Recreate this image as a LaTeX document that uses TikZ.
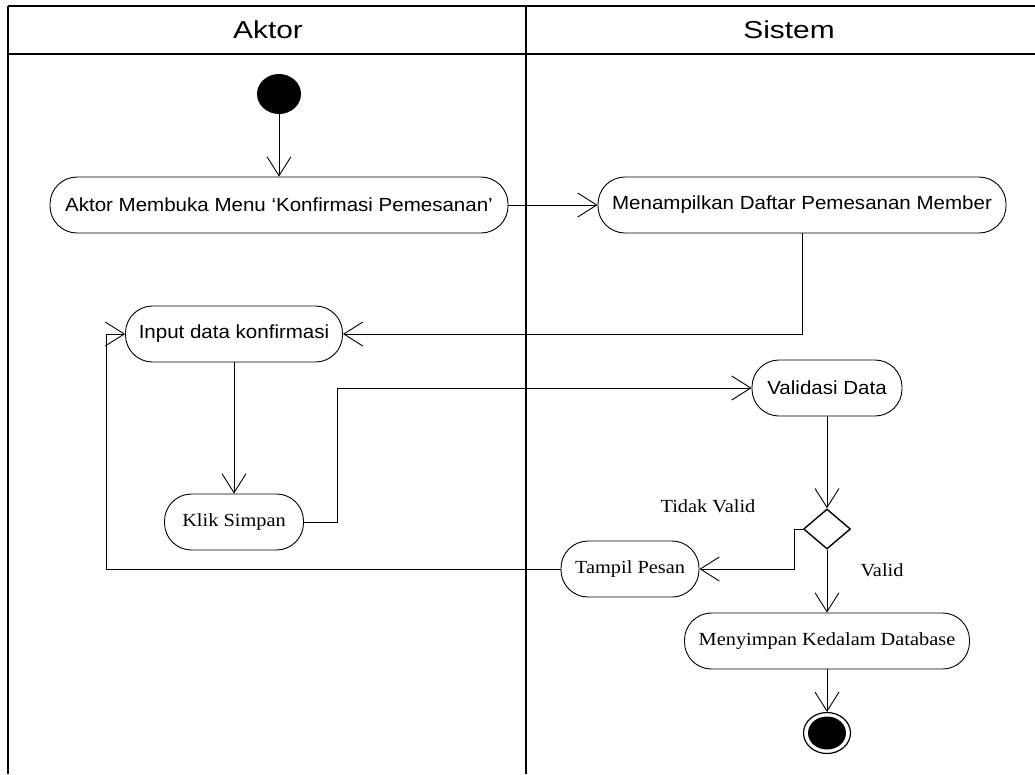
\documentclass[tikz,border=0pt]{standalone}
\usepackage{fontspec}
\setmainfont{Liberation Serif}[FakeStretch=1.1]
\newfontfamily\actsans{Liberation Sans}[FakeStretch=1.08]
\newfontfamily\headsans{Liberation Sans}[FakeStretch=1.22]
\usetikzlibrary{arrows.meta,shapes.geometric}

\begin{document}
\begin{tikzpicture}[x=1pt,y=-1pt,
  lane/.style={line width=1.8pt},
  act/.style={draw, line width=0.9pt, rounded corners=27pt, minimum height=56pt,
               inner sep=0pt, align=center},
  sanstext/.style={font=\actsans\fontsize{19}{22}\selectfont},
  seriftext/.style={font=\fontsize{18.5}{22}\selectfont},
  headtext/.style={font=\headsans\fontsize{24.5}{30}\selectfont},
  guard/.style={font=\fontsize{18.5}{22}\selectfont},
  flow/.style={line width=0.9pt, -{Straight Barb[length=19pt,width=24pt,line width=0.9pt]}}]

\useasboundingbox (0,0) rectangle (1035,774);

% swimlane frame
\draw[lane] (8,6) -- (1035,6);
\draw[lane] (8,54) -- (1035,54);
\draw[lane] (8,6) -- (8,774);
\draw[line width=2.2pt] (526,6) -- (526,774);

\node[headtext] (hA) at (268,30) {Aktor};
\node[headtext] (hS) at (789,30) {Sistem};

% initial and final states
\node[ellipse, fill=black, minimum width=44pt, minimum height=40pt, inner sep=0pt] (start) at (279,94) {};
\node[ellipse, draw, line width=1.2pt, minimum width=47pt, minimum height=41pt, inner sep=0pt] (finish) at (827,733) {};
\fill (finish.center) ellipse [x radius=19pt, y radius=16.5pt];

% activities
\node[act, sanstext, minimum width=458pt] (n1) at (279,205) {Aktor Membuka Menu ‘Konfirmasi Pemesanan’};
\node[act, sanstext, minimum width=408pt] (n2) at (802,205) {Menampilkan Daftar Pemesanan Member};
\node[act, sanstext, minimum width=217pt] (inp) at (234,334) {Input data konfirmasi};
\node[act, seriftext, minimum width=139pt] (klik) at (234,522) {Klik Simpan};
\node[act, sanstext, minimum width=150pt] (valid) at (827,388) {Validasi Data};
\node[diamond, draw, line width=1.4pt, minimum width=47pt, minimum height=40pt, inner sep=0pt] (dec) at (827,529) {};
\node[act, seriftext, minimum width=138pt] (tampil) at (630,569) {Tampil Pesan};
\node[act, seriftext, minimum width=285pt] (save) at (827,641) {Menyimpan Kedalam Database};

% guard labels
\node[guard] (gno) at (708,506) {Tidak Valid};
\node[guard] (gyes) at (882,570) {Valid};

% bend points
\coordinate (bk) at (337,388);
\coordinate (bd) at (794,529);
\coordinate (bt) at (106,569);

% transitions
\draw[flow] (start) -- (n1);
\draw[flow] (n1.east) -- (n2.west);
\draw[flow] (n2.south) |- (inp.east);
\draw[flow] (inp.south) -- (klik.north);
\draw[flow] (klik.east) -| (bk) -- (valid.west);
\draw[flow] (valid.south) -- (dec.north);
\draw[flow] (dec.west) -- (bd) |- (tampil.east);
\draw[flow] (tampil.west) -- (bt) |- (inp.west);
\draw[flow] (dec.south) -- (save.north);
\draw[flow] (save.south) -- (finish.north);

\end{tikzpicture}
\end{document}
